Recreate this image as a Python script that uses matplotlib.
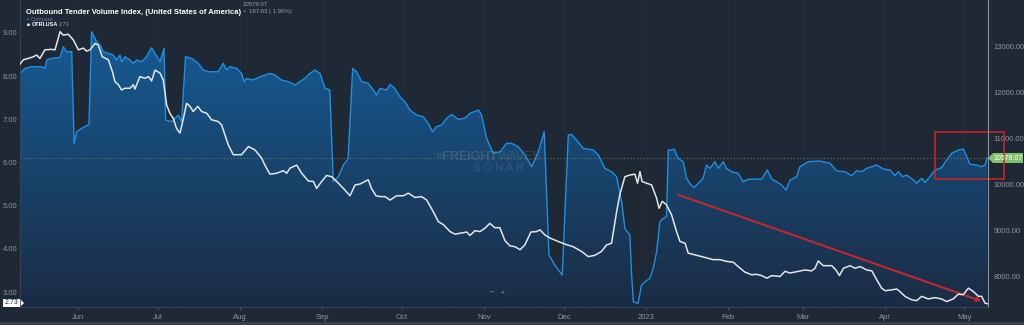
import numpy as np
import pandas as pd
import matplotlib
matplotlib.use("Agg")
import matplotlib.pyplot as plt
import matplotlib.dates as mdates
from matplotlib.patches import Rectangle, Polygon, FancyArrowPatch

plt.rcParams['font.family'] = ['Liberation Sans', 'DejaVu Sans']

BG = "#1e2935"
GREY = "#8d96a0"

# data: day offsets from start date
start = pd.Timestamp("2022-05-10")

otvi_days = [0, 1.9, 4.4, 8.2, 9.4, 10.1, 11.9, 15.1, 16.3, 17.6, 19.5, 20.4, 21.4, 23.2, 26.0,
             27.0, 28.9, 30.2, 31.4, 33.3, 35.2, 36.4, 37.7, 38.3, 39.6, 41.5, 42.7, 44.0, 45.9,
             47.7, 49.6, 50.9, 52.8, 54.3, 54.9, 57.2, 59.7, 60.9, 62.4, 64.7, 67.2, 69.1, 71.0,
             74.7, 76.6, 77.9, 79.1, 81.7, 83.5, 84.5, 85.4, 87.3, 89.2, 90.5, 92.3, 94.2, 96.1,
             98.6, 101.1, 102.4, 103.7, 105.5, 107.4, 109.3, 111.2, 113.1, 115.0, 116.8, 118.1,
             120.0, 121.9, 123.7, 125.4, 126.9, 128.8, 131.3, 133.2, 134.4, 135.7, 138.2, 139.5,
             141.3, 143.2, 145.1, 147.0, 149.5, 152.0, 153.9, 155.5, 157.0, 158.9, 160.8, 162.7,
             165.2, 167.7, 169.6, 172.8, 174.0, 175.9, 178.4, 181.0, 183.4, 185.3, 187.8, 190.3,
             192.9, 195.4, 197.6, 199.4, 201.6, 204.4, 206.7, 207.9, 209.8, 212.3, 216.1, 218.0,
             220.5, 223.0, 224.9, 226.8, 228.0, 229.9, 230.5, 231.2, 233.0, 234.3, 235.6, 237.4,
             238.7, 240.0, 241.2, 242.5, 243.7, 244.4, 245.6, 246.6, 248.1, 250.0, 251.3, 252.5,
             254.0, 255.7, 257.5, 258.8, 260.1, 262.0, 263.2, 265.1, 266.3, 268.2, 270.7, 272.6,
             274.5, 277.7, 279.6, 281.7, 283.4, 285.2, 287.1, 288.8, 290.3, 292.8, 294.0, 297.2,
             301.6, 305.4, 307.9, 311.0, 313.5, 315.4, 317.3, 319.2, 323.0, 325.5, 328.0, 329.8,
             331.1, 332.7, 334.2, 336.8, 338.0, 339.9, 341.2, 343.0, 344.9, 347.4, 349.3, 351.2,
             353.7, 355.6, 356.9, 358.1, 360.6, 362.5, 363.8, 364.6]
otvi_vals = [12416, 12525, 12561, 12561, 12525, 12706, 12742, 12764, 12996, 12887, 12887, 10894,
             11148, 11220, 11307, 13322, 13105, 13032, 12887, 12851, 12815, 12706, 12815, 12670,
             12779, 12706, 12634, 12706, 12670, 12779, 12974, 12851, 12670, 12960, 11402, 11365,
             11510, 11365, 12779, 12742, 12634, 12489, 12452, 12452, 12634, 12489, 12561, 12525,
             12416, 12235, 12307, 12271, 12307, 12344, 12380, 12416, 12380, 12271, 12235, 12199,
             12163, 12235, 12307, 12416, 12489, 12416, 12090, 12054, 10061, 10170, 10423, 10568,
             12525, 12452, 12235, 12199, 12054, 11945, 12090, 12054, 12177, 12090, 11909, 11800,
             11619, 11510, 11474, 11329, 11148, 11257, 11293, 11438, 11525, 11416, 11438, 11547,
             11619, 11510, 11003, 10677, 10713, 10894, 10894, 10822, 10641, 10387, 10713, 11148,
             8467, 8249, 8032, 11076, 11090, 10967, 10786, 10749, 10641, 10351, 10278, 10170,
             9626, 9046, 8902, 8104, 7452, 7416, 7814, 7887, 7959, 8177, 8539, 9191, 9264, 9300,
             10749, 10749, 10771, 10568, 10496, 10134, 10025, 9930, 10025, 10134, 10423, 10351,
             10496, 10351, 10496, 10351, 10278, 10242, 10061, 10112, 10119, 10119, 10315, 10119,
             10061, 9988, 9880, 10097, 10170, 10387, 10496, 10510, 10460, 10293, 10278, 10191,
             10300, 10278, 10351, 10423, 10336, 10315, 10191, 10278, 10170, 10206, 10097, 10025,
             10134, 10046, 10170, 10315, 10365, 10532, 10677, 10749, 10771, 10604, 10438, 10423,
             10387, 10423, 10579.07]

otri_days = [0, 1.3, 3.1, 5.0, 6.3, 7.5, 9.4, 11.9, 13.2, 15.1, 16.3, 18.2, 20.1, 22.0, 23.9, 25.1,
             26.4, 28.3, 29.5, 31.0, 33.3, 34.8, 35.8, 37.1, 38.3, 39.6, 41.5, 42.7, 43.3, 45.2,
             47.1, 48.4, 49.6, 50.9, 52.8, 54.0, 55.3, 56.5, 57.8, 59.0, 60.3, 61.6, 62.8, 64.1,
             65.3, 67.0, 68.5, 70.4, 72.2, 74.7, 76.0, 78.5, 80.4, 83.5, 86.1, 88.6, 91.1, 92.3,
             94.2, 96.7, 99.3, 100.5, 101.8, 104.3, 106.2, 108.7, 110.6, 111.8, 113.7, 115.6,
             117.5, 119.4, 121.9, 124.4, 126.3, 128.1, 130.0, 131.3, 132.5, 134.2, 135.7, 137.6,
             139.5, 142.0, 144.5, 146.4, 148.9, 151.4, 153.3, 155.8, 157.7, 159.6, 162.1, 164.0,
             168.4, 169.6, 171.5, 173.4, 175.3, 177.1, 179.0, 180.9, 182.8, 184.7, 186.6, 188.5,
             190.3, 192.6, 194.7, 196.0, 197.9, 199.8, 202.9, 205.4, 208.5, 211.7, 214.2, 216.7,
             219.2, 221.1, 223.0, 224.9, 226.1, 228.0, 229.9, 231.8, 232.8, 233.7, 234.5, 236.2,
             238.1, 240.0, 240.9, 242.1, 243.7, 245.6, 247.5, 248.8, 250.7, 251.9, 254.5, 257.0,
             259.4, 261.3, 263.8, 266.4, 268.9, 270.7, 273.3, 275.8, 277.7, 279.6, 281.5, 283.4,
             286.5, 288.4, 290.3, 293.4, 295.9, 298.4, 299.7, 300.9, 302.8, 306.0, 307.6, 308.9,
             310.4, 312.9, 314.8, 316.7, 319.2, 321.1, 323.0, 324.8, 326.1, 328.6, 330.5, 331.7,
             333.6, 336.1, 338.0, 339.9, 342.4, 344.9, 347.4, 349.3, 351.8, 353.7, 355.6, 357.5,
             359.4, 361.3, 362.5, 363.8, 364.7]
otri_vals = [8.28, 8.38, 8.41, 8.45, 8.49, 8.41, 8.61, 8.62, 8.61, 9.03, 8.95, 8.97, 8.84, 8.61,
             8.65, 8.58, 8.61, 8.76, 8.72, 8.45, 8.38, 8.11, 7.87, 7.80, 7.68, 7.72, 7.72, 7.80,
             7.70, 7.99, 7.95, 7.99, 7.89, 8.14, 8.07, 7.91, 7.33, 7.14, 7.02, 6.79, 6.68, 7.02,
             7.37, 7.30, 7.18, 7.30, 7.18, 7.14, 6.99, 6.95, 6.87, 6.41, 6.18, 6.18, 6.37, 6.29,
             6.10, 5.94, 5.73, 5.75, 5.81, 5.75, 5.87, 5.94, 5.75, 5.57, 5.56, 5.40, 5.56, 5.70,
             5.67, 5.56, 5.40, 5.23, 5.48, 5.50, 5.56, 5.60, 5.40, 5.23, 5.21, 5.21, 5.13, 5.23,
             5.23, 5.29, 5.19, 5.21, 5.13, 4.86, 4.63, 4.56, 4.40, 4.34, 4.39, 4.31, 4.42, 4.40,
             4.48, 4.59, 4.49, 4.49, 4.19, 4.07, 4.05, 3.98, 4.09, 4.39, 4.40, 4.44, 4.32, 4.25,
             4.17, 4.11, 4.05, 3.94, 3.82, 3.85, 3.94, 4.09, 4.13, 4.86, 5.25, 5.67, 5.71, 5.73,
             5.52, 5.79, 5.56, 5.52, 5.48, 5.17, 4.94, 5.10, 5.02, 4.79, 4.40, 4.17, 4.13, 3.90,
             3.86, 3.82, 3.78, 3.75, 3.75, 3.71, 3.69, 3.59, 3.46, 3.40, 3.41, 3.38, 3.32, 3.38,
             3.36, 3.48, 3.44, 3.48, 3.51, 3.49, 3.55, 3.72, 3.61, 3.61, 3.51, 3.38, 3.55, 3.61,
             3.55, 3.59, 3.51, 3.49, 3.28, 3.09, 3.03, 3.05, 3.07, 3.01, 2.90, 2.82, 2.80, 2.90,
             2.84, 2.87, 2.84, 2.78, 2.84, 2.95, 2.94, 3.09, 3.01, 2.90, 2.90, 2.74, 2.73]

month_ticks = ["2022-06-01", "2022-07-01", "2022-08-01", "2022-09-01", "2022-10-01", "2022-11-01",
               "2022-12-01", "2023-01-01", "2023-02-01", "2023-03-01", "2023-04-01", "2023-05-01"]
month_labels = ["Jun", "Jul", "Aug", "Sep", "Oct", "Nov", "Dec", "2023", "Feb", "Mar", "Apr", "May"]

left_ticks = [3, 4, 5, 6, 7, 8, 9]
right_ticks = [8000, 9000, 10000, 11000, 12000, 13000]

last_otvi = 10579.07
last_otri = 2.73

otvi_dates = start + pd.to_timedelta(otvi_days, unit="D")
otri_dates = start + pd.to_timedelta(otri_days, unit="D")

W, H = 1024, 325
def fx(px):
    return px / W
def fy(py):
    return 1 - py / H

fig = plt.figure(figsize=(W / 100, H / 100), dpi=100, facecolor=BG)
ax_w = fig.add_axes([fx(20), fy(307), fx(968), 307 / H])
ax_b = ax_w.twinx()
ax_w.set_zorder(ax_b.get_zorder() + 1)
ax_w.patch.set_visible(False)
ax_b.set_facecolor(BG)

x0 = mdates.date2num(start)
x1 = mdates.date2num(start + pd.Timedelta(days=364.9))
ylo_b, yhi_b = 7337, 14011
ax_w.set_xlim(x0, x1)
ax_b.set_ylim(ylo_b, yhi_b)
ax_w.set_ylim(2.653, 9.764)

# month grid lines
for m in month_ticks:
    ax_b.axvline(pd.Timestamp(m), color="#253140", lw=0.6, zorder=0)

# gradient area for OTVI
xn = mdates.date2num(otvi_dates)
verts = [(xn[0], ylo_b)] + list(zip(xn, otvi_vals)) + [(xn[-1], ylo_b)]
poly = Polygon(verts, closed=True, facecolor="none", edgecolor="none")
ax_b.add_patch(poly)
c_top = np.array([0x16, 0x5c, 0x96]) / 255
c_bot = np.array([0x1b, 0x2c, 0x44]) / 255
t = np.linspace(0, 1, 256)[:, None]
grad = (c_bot[None, :] * (1 - t) + c_top[None, :] * t)[:, None, :]
img = ax_b.imshow(grad, extent=(x0, x1, ylo_b, 13400), origin="lower", aspect="auto", zorder=1)
img.set_clip_path(poly)
ax_b.plot(otvi_dates, otvi_vals, color="#1f8fe2", lw=1.0, zorder=2)
ax_b.axhline(last_otvi, color="#5f7a60", ls=(0, (1, 2)), lw=0.8, zorder=3)
ax_b.set_xlim(x0, x1)

ax_w.plot(otri_dates, otri_vals, color="#e4e6e8", lw=1.1, zorder=4)

# axes styling
ax_w.set_yticks(left_ticks)
ax_w.set_yticklabels([f"{v:.2f}" for v in left_ticks])
ax_b.set_yticks(right_ticks)
ax_b.set_yticklabels([f"{v:.2f}" for v in right_ticks])
ax_w.tick_params(axis="y", length=0, pad=2, labelsize=5.5, labelcolor=GREY)
ax_b.tick_params(axis="y", length=0, pad=4, labelsize=5.5, labelcolor=GREY)
ax_w.set_xticks([pd.Timestamp(m) for m in month_ticks])
ax_w.set_xticklabels(month_labels)
ax_w.tick_params(axis="x", length=2, width=0.5, color="#5a6470", pad=3, labelsize=5.5, labelcolor=GREY)
for sp in ax_b.spines.values():
    sp.set_visible(False)
ax_w.spines["top"].set_visible(False)
ax_w.spines["left"].set_color("#3a4654")
ax_w.spines["left"].set_linewidth(0.6)
ax_w.spines["bottom"].set_color("#3d4856")
ax_w.spines["bottom"].set_linewidth(0.6)
ax_w.spines["right"].set_color("#8a9099")
ax_w.spines["right"].set_linewidth(0.8)

# bottom strip
fig.add_artist(Rectangle((0, 0), 1, 3 / H, transform=fig.transFigure, color="#3b4149", lw=0))

# header texts
fig.text(fx(26), fy(12), "Outbound Tender Volume Index, (United States of America)",
         color="white", fontweight="bold", fontsize=5.5, va="center")
fig.text(fx(243), fy(5), "10579.07", color="#9aa3ad", fontsize=4.3, va="center")
fig.text(fx(242), fy(11.5), "\u25b2", color="#7fc267", fontsize=2.5, va="center")
fig.text(fx(249), fy(11), "197.63 ( 1.90%)", color="#9aa3ad", fontsize=4.3, va="center")
fig.text(fx(27), fy(19), "\u25a0", color="#1f8fe2", fontsize=2.5, va="center")
fig.text(fx(31), fy(19), "Compare...", color="#5c7fa6", fontsize=4, va="center")
fig.text(fx(27), fy(25), "\u25a0", color="white", fontsize=3.5, va="center")
fig.text(fx(32), fy(25), "OTRI.USA", color="white", fontweight="bold", fontsize=4, va="center")
fig.text(fx(59), fy(25), f"{last_otri:.2f}", color="#9aa3ad", fontsize=4, va="center")

# watermark
fig.text(fx(498), fy(157), "\u2261FREIGHT", color="#6f7c8a", alpha=0.45, fontsize=9,
         fontweight="bold", ha="right", va="center")
fig.text(fx(498), fy(157), "WAVES", color="#6f7c8a", alpha=0.35, fontsize=9,
         ha="left", va="center")
fig.text(fx(498), fy(168), "S O N A R", color="#6f7c8a", alpha=0.35, fontsize=8,
         ha="center", va="center")

# zoom controls
fig.text(fx(492), fy(293), "\u2212", color=GREY, fontsize=5, ha="center", va="center")
fig.text(fx(503), fy(293), "+", color=GREY, fontsize=5, ha="center", va="center")

# value labels
fig.add_artist(Polygon([(fx(988), fy(158)), (fx(993), fy(153)), (fx(1023), fy(153)),
                        (fx(1023), fy(163)), (fx(993), fy(163))], closed=True,
                       transform=fig.transFigure, facecolor="#7fc267", edgecolor="none"))
fig.text(fx(1008), fy(158), f"{last_otvi:.2f}", color="white", fontsize=5, ha="center", va="center")
fig.add_artist(Polygon([(fx(3), fy(299)), (fx(20), fy(299)), (fx(24), fy(303)),
                        (fx(20), fy(307)), (fx(3), fy(307))], closed=True,
                       transform=fig.transFigure, facecolor="white", edgecolor="none"))
fig.text(fx(12), fy(303), f"{last_otri:.2f}", color=BG, fontsize=5, ha="center", va="center")

# annotations
fig.add_artist(Rectangle((fx(935), fy(179)), fx(69), 47 / H, transform=fig.transFigure,
                         fill=False, edgecolor="#c8232b", lw=1.2))
fig.add_artist(FancyArrowPatch((fx(676), fy(194)), (fx(984), fy(302)), transform=fig.transFigure,
                               arrowstyle="-|>", mutation_scale=6, color="#c0282e", lw=1.5))

fig.savefig("out.png", dpi=100, facecolor=BG)
